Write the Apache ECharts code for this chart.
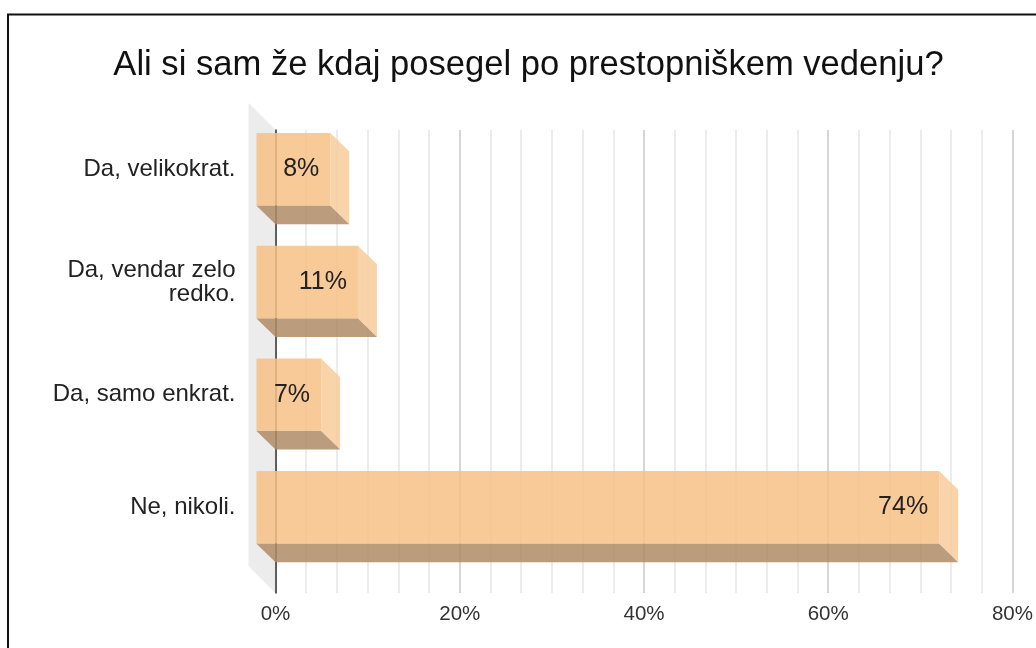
<!DOCTYPE html>
<html><head><meta charset="utf-8">
<style>html,body{margin:0;padding:0;background:#fff}#c{width:1036px;height:648px}</style>
<script src="https://cdn.jsdelivr.net/npm/echarts@6/dist/echarts.min.js"></script>
</head><body><div id="c"></div>
<script>
const titleText = 'Ali si sam že kdaj posegel po prestopniškem vedenju?';
const categories = ['Da, velikokrat.', 'Da, vendar zelo\nredko.', 'Da, samo enkrat.', 'Ne, nikoli.'];
const values = [8, 11, 7, 74];
const DEPTH_X = 19, DEPTH_Y = 18.5;
const font = 'Liberation Sans, Arial, sans-serif';

function renderBar(params, api) {
  const cat = api.value(0), v = api.value(1);
  const p0 = api.coord([0, cat]), p1 = api.coord([v, cat]);
  const h = api.size([0, 1])[1] * 0.645;
  const xl = p0[0] - DEPTH_X, xr = p1[0] - DEPTH_X;
  const yt = p0[1] - h / 2, yb = p0[1] + h / 2;
  return {
    type: 'group',
    children: [
      { type: 'rect', shape: { x: xl, y: yt, width: xr - xl, height: h },
        style: { fill: 'rgba(247,193,134,0.85)' } },
      { type: 'polygon', shape: { points: [[xr, yt], [xr + DEPTH_X, yt + DEPTH_Y], [xr + DEPTH_X, yb + DEPTH_Y], [xr, yb]] },
        style: { fill: 'rgba(248,204,155,0.85)' } },
      { type: 'polygon', shape: { points: [[xl, yb], [xr, yb], [xr + DEPTH_X, yb + DEPTH_Y], [xl + DEPTH_X, yb + DEPTH_Y]] },
        style: { fill: 'rgba(175,139,101,0.85)' } },
      { type: 'text', style: { text: v + '%', x: xr - 11, y: p0[1], align: 'right', verticalAlign: 'middle',
        font: '25px ' + font, fill: '#222' } }
    ]
  };
}
function renderWall(params, api) {
  const r = params.coordSys;
  const x = r.x, t = r.y, b = r.y + r.height, w = 27;
  return { type: 'polygon', shape: { points: [[x - w, t - w], [x, t], [x, b], [x - w, b - w]] },
    style: { fill: '#ececec' } };
}

const chart = echarts.init(document.getElementById('c'), null, { renderer: 'canvas' });
chart.setOption({
  animation: false,
  backgroundColor: '#fff',
  title: { text: titleText, left: 523.5, top: 43, textAlign: 'center',
    textStyle: { fontFamily: font, fontSize: 34.6, fontWeight: 'normal', color: '#111' } },
  graphic: [{ type: 'rect', shape: { x: 8, y: 14.5, width: 1100, height: 700 },
    style: { fill: 'none', stroke: '#111', lineWidth: 2 }, silent: true, z: 100 }],
  grid: [
    { left: 275.5, top: 130, width: 738, height: 463 },
    { left: 275.5, top: 113, width: 738, height: 450.8 }
  ],
  xAxis: [
    { type: 'value', gridIndex: 0, min: 0, max: 80, interval: 20, minorTick: { show: false, splitNumber: 6 },
      axisLine: { show: false }, axisTick: { show: false },
      axisLabel: { formatter: '{value}%', margin: 11, fontFamily: font, fontSize: 20.5, color: '#333', hideOverlap: false, showMinLabel: true, showMaxLabel: true },
      splitLine: { show: true, lineStyle: { color: '#c9c9c9', width: 1.5 } },
      minorSplitLine: { show: true, lineStyle: { color: '#e6e6e6', width: 1.5 } } },
    { type: 'value', gridIndex: 1, min: 0, max: 80, show: false }
  ],
  yAxis: [
    { type: 'value', gridIndex: 0, min: 0, max: 1, axisLabel: { show: false }, axisTick: { show: false },
      splitLine: { show: false }, axisLine: { show: true, onZero: false, lineStyle: { color: '#333', width: 1.5 } } },
    { type: 'category', gridIndex: 1, inverse: true, data: categories,
      axisLine: { show: false }, axisTick: { show: false }, splitLine: { show: false },
      axisLabel: { margin: 40, align: 'right', fontFamily: font, fontSize: 24, lineHeight: 24, color: '#222' } }
  ],
  series: [
    { type: 'custom', xAxisIndex: 0, yAxisIndex: 0, z: 0, silent: true, data: [[0, 0]], renderItem: renderWall, clip: false },
    { type: 'custom', xAxisIndex: 1, yAxisIndex: 1, z: 3, silent: true, clip: false,
      encode: { x: 1, y: 0 },
      data: values.map((v, i) => [i, v]), renderItem: renderBar }
  ]
});
</script></body></html>
